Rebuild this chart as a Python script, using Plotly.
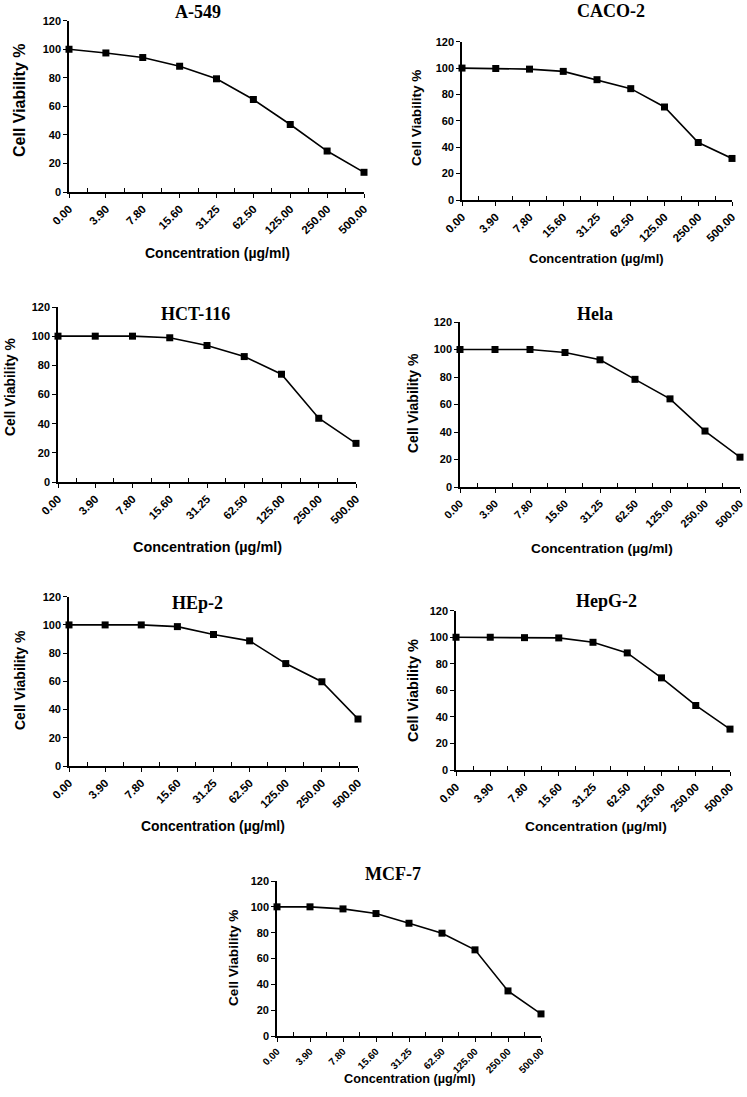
import plotly.graph_objects as go

W, H = 747, 1097

concentrations = ["0.00", "3.90", "7.80", "15.60", "31.25", "62.50", "125.00", "250.00", "500.00"]
cell_lines = ["A-549", "CACO-2", "HCT-116", "Hela", "HEp-2", "HepG-2", "MCF-7"]

a549 = [100, 97.4, 94.2, 88.1, 79.3, 64.8, 47.3, 28.7, 13.8]
caco2 = [100, 99.7, 99.2, 97.5, 91.2, 84.4, 70.5, 43.6, 31.5]
hct116 = [100, 100, 100, 98.9, 93.6, 86.0, 73.9, 43.7, 26.5]
hela = [100, 100, 100, 97.8, 92.5, 78.3, 64.1, 40.7, 21.7]
hep2 = [100, 100, 100, 98.8, 93.2, 88.7, 72.6, 59.7, 33.3]
hepg2 = [100, 100, 99.7, 99.5, 96.2, 88.2, 69.4, 48.6, 30.8]
mcf7 = [100, 100, 98.4, 94.8, 87.3, 79.6, 66.7, 34.9, 17.1]
series = [a549, caco2, hct116, hela, hep2, hepg2, mcf7]

y_ticks = [0, 20, 40, 60, 80, 100, 120]
x_title = "Concentration (µg/ml)"
y_title = "Cell Viability %"

# panel layout in pixels: (x_left, x_right, y_top(120), y_bottom(0))
panels = [
    (69, 364, 20.7, 192),
    (462, 732, 41.7, 200),
    (58, 356, 307, 482),
    (460, 740, 322, 487),
    (69, 358, 596.7, 766),
    (456, 730, 610.7, 770),
    (277, 541, 881, 1036),
]
title_pos = [(198, 12), (611, 11), (195, 314), (595, 314), (197, 603), (606, 601), (393, 874)]
xtitle_pos = [(217, 253), (596, 258), (207, 547), (602, 548), (213, 826), (596, 826), (409, 1079)]
ytitle_pos = [(20, 100), (416, 118), (10, 387), (413, 403), (20, 680), (413, 691), (233, 958)]
xt_size = [14, 13, 14.4, 13.7, 13.9, 13.7, 12.7]
yt_size = [16, 13.6, 13.8, 14, 14, 14.5, 13.6]
xtick_size = [11.5, 11.5, 11.5, 11, 11.5, 11.5, 10]

fig = go.Figure()
annotations = []
xs = list(range(len(concentrations)))

for i, (name, vals) in enumerate(zip(cell_lines, series)):
    k = "" if i == 0 else str(i + 1)
    xl, xr, yt, yb = panels[i]
    fig.add_trace(go.Scatter(
        x=xs, y=vals, mode="lines+markers",
        line=dict(color="black", width=1.6),
        marker=dict(symbol="square", size=7, color="black"),
        cliponaxis=False, showlegend=False, hoverinfo="skip",
        xaxis="x" + k, yaxis="y" + k,
    ))
    fig.layout["xaxis" + k] = dict(
        domain=[xl / W, xr / W], anchor="y" + k, automargin=False,
        range=[0, len(concentrations) - 1],
        tickvals=xs, ticktext=concentrations, tickangle=-45,
        ticklabeloverflow="allow",
        ticks="outside", ticklen=4, tickwidth=1.2, tickcolor="black",
        minor=dict(tickvals=[v + 0.5 for v in xs[:-1]], ticks="inside", ticklen=4,
                   tickwidth=1.2, tickcolor="black"),
        showline=True, linecolor="black", linewidth=1.6,
        showgrid=False, zeroline=False,
        tickfont=dict(family="Liberation Sans", size=xtick_size[i], color="black", weight="bold"),
    )
    fig.layout["yaxis" + k] = dict(
        domain=[1 - yb / H, 1 - yt / H], anchor="x" + k, automargin=False,
        range=[0, 120], tickvals=y_ticks,
        ticks="outside", ticklen=4, tickwidth=1.2, tickcolor="black",
        showline=True, linecolor="black", linewidth=1.6,
        showgrid=False, zeroline=False,
        tickfont=dict(family="Liberation Sans", size=11, color="black", weight="bold"),
    )
    tx, ty = title_pos[i]
    annotations.append(dict(text=name, x=tx / W, y=1 - ty / H, xref="paper", yref="paper",
                            showarrow=False, xanchor="center", yanchor="middle",
                            font=dict(family="Liberation Serif", size=18, color="black", weight="bold")))
    ax, ay = xtitle_pos[i]
    annotations.append(dict(text=x_title, x=ax / W, y=1 - ay / H, xref="paper", yref="paper",
                            showarrow=False, xanchor="center", yanchor="middle",
                            font=dict(family="Liberation Sans", size=xt_size[i], color="black", weight="bold")))
    bx, by = ytitle_pos[i]
    annotations.append(dict(text=y_title, x=bx / W, y=1 - by / H, xref="paper", yref="paper",
                            showarrow=False, xanchor="center", yanchor="middle", textangle=-90,
                            font=dict(family="Liberation Sans", size=yt_size[i], color="black", weight="bold")))

fig.update_layout(
    width=W, height=H, autosize=False,
    margin=dict(l=0, r=0, t=0, b=0, autoexpand=False),
    paper_bgcolor="white", plot_bgcolor="white",
    annotations=annotations,
)

fig.write_html("out.html", config={"displayModeBar": False},
               post_script="document.body.style.margin='0px';document.body.style.overflow='hidden';")
